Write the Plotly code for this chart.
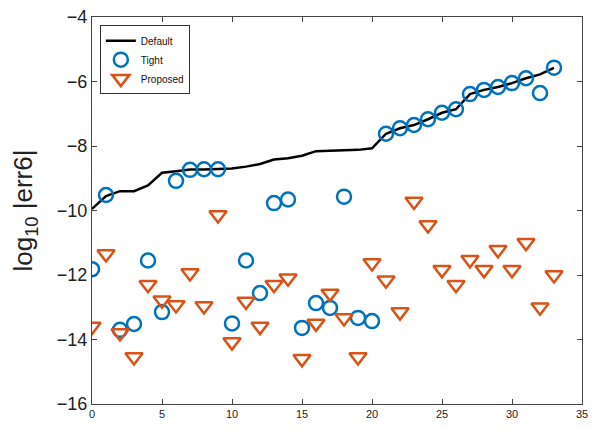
import plotly.graph_objects as go

idx = list(range(34))
default_vals = [-9.95, -9.55, -9.4, -9.4, -9.22, -8.83, -8.78, -8.73, -8.73, -8.72,
                -8.7, -8.64, -8.56, -8.42, -8.38, -8.3, -8.16, -8.15, -8.14, -8.12,
                -8.07, -7.62, -7.45, -7.35, -7.17, -6.97, -6.86, -6.39, -6.26, -6.17,
                -6.05, -5.9, -5.78, -5.58]
tight_vals = [-11.82, -9.52, -13.7, -13.52, -11.55, -13.15, -9.08, -8.74, -8.72, -8.72,
              -13.5, -11.55, -12.56, -9.77, -9.66, -13.64, -12.87, -13.02, -9.57, -13.33,
              -13.43, -7.62, -7.45, -7.35, -7.17, -6.97, -6.86, -6.39, -6.26, -6.17,
              -6.05, -5.9, -6.36, -5.57]
proposed_vals = [-13.6, -11.35, -13.8, -14.54, -12.3, -12.78, -12.93, -11.94, -12.96, -10.14,
                 -14.08, -12.82, -13.6, -12.3, -12.1, -14.6, -13.5, -12.57, -13.33, -14.54,
                 -11.63, -12.16, -13.15, -9.72, -10.45, -11.84, -12.3, -11.53, -11.84, -11.22,
                 -11.84, -11.0, -13.0, -12.0]

x_ticks = [0, 5, 10, 15, 20, 25, 30, 35]
y_ticks = [-16, -14, -12, -10, -8, -6, -4]

fig = go.Figure()
fig.add_trace(go.Scatter(x=idx, y=default_vals, mode="lines", name="Default",
                         line=dict(color="black", width=2.5)))
fig.add_trace(go.Scatter(x=idx, y=tight_vals, mode="markers", name="Tight",
                         marker=dict(symbol="circle-open", size=14, color="#0072BD",
                                     line=dict(width=2.5, color="#0072BD"))))
fig.add_trace(go.Scatter(x=idx, y=proposed_vals, mode="markers", name="Proposed",
                         marker=dict(symbol="triangle-down-open", size=15, color="#D95319",
                                     line=dict(width=2.5, color="#D95319"))))

axis_common = dict(showgrid=False, zeroline=False, showline=True, linecolor="#444",
                   linewidth=1, mirror="ticks", ticks="inside", ticklen=5,
                   tickcolor="#444", automargin=False)
fig.update_xaxes(range=[0, 35], tickmode="linear", tick0=x_ticks[0],
                 dtick=x_ticks[1] - x_ticks[0],
                 tickfont=dict(size=11, color="#222"), **axis_common)
fig.update_yaxes(range=[-16, -4], tickvals=y_ticks,
                 ticktext=["\u2212" + str(-v) for v in y_ticks],
                 tickfont=dict(size=18, color="#222"),
                 title=dict(text="log<sub>10</sub> |err6|", font=dict(size=26, color="#222"),
                            standoff=16),
                 **axis_common)

fig.update_layout(
    width=596, height=429,
    margin=dict(l=92, r=14, t=17, b=25),
    plot_bgcolor="white", paper_bgcolor="white",
    font=dict(family="Liberation Sans, Arial, sans-serif", color="#222"),
    legend=dict(x=0.016, y=0.979, xanchor="left", yanchor="top",
                bordercolor="#333", borderwidth=1, bgcolor="white",
                font=dict(size=10, color="#111"), tracegroupgap=0,
                itemwidth=30),
)

post = "document.body.style.margin='0';document.body.style.overflow='hidden';"

fig.write_html("out.html", post_script=post, config={"displayModeBar": False})
